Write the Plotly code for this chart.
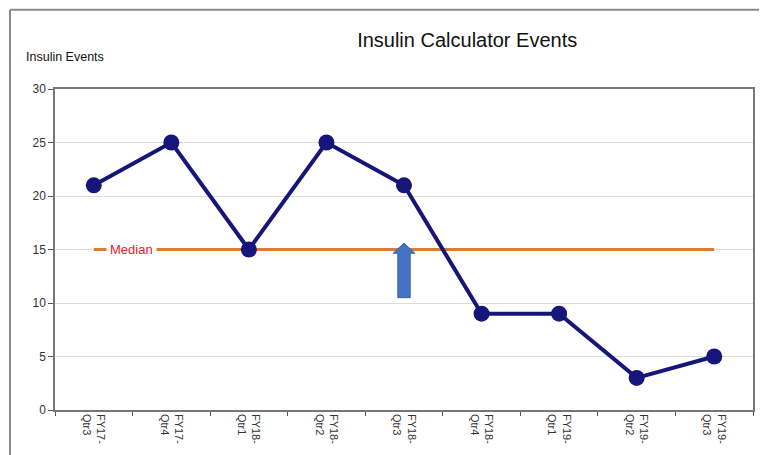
import plotly.graph_objects as go

categories = ["FY17-<br>Qtr3", "FY17-<br>Qtr4", "FY18-<br>Qtr1", "FY18-<br>Qtr2", "FY18-<br>Qtr3",
              "FY18-<br>Qtr4", "FY19-<br>Qtr1", "FY19-<br>Qtr2", "FY19-<br>Qtr3"]
events = [21, 25, 15, 25, 21, 9, 9, 3, 5]
median_value = 15
median = [median_value] * len(categories)

# arrow marker position (category index, value from/to)
arrow_cat = 4
arrow_from = 10.5
arrow_to = 15.6

fig = go.Figure()
fig.add_trace(go.Scatter(x=categories, y=median, mode="lines",
                         line=dict(color="#E07A2E", width=3), hoverinfo="skip", showlegend=False))
fig.add_trace(go.Scatter(x=categories, y=events, mode="lines+markers",
                         line=dict(color="#15157A", width=4),
                         marker=dict(size=16, color="#15157A"), showlegend=False))

# block arrow
sw, hw = 0.08, 0.14
head_base = arrow_to - 0.95
cx = arrow_cat
path = (f"M {cx-sw} {arrow_from} L {cx-sw} {head_base} L {cx-hw} {head_base} "
        f"L {cx} {arrow_to} L {cx+hw} {head_base} L {cx+sw} {head_base} L {cx+sw} {arrow_from} Z")
fig.add_shape(type="path", path=path, xref="x", yref="y",
              fillcolor="#4472C4", line=dict(color="#3A62AA", width=1))

# outer frame (left and top edges visible)
fig.add_shape(type="line", xref="paper", yref="paper", x0=-0.0645, x1=-0.0645, y0=-0.3, y1=1.247,
              line=dict(color="#8a8a8a", width=2), layer="below")
fig.add_shape(type="line", xref="paper", yref="paper", x0=-0.0645, x1=1.3, y0=1.247, y1=1.247,
              line=dict(color="#8a8a8a", width=2), layer="below")

fig.add_annotation(text="Median", x=0.48, y=median_value, xref="x", yref="y",
                   xanchor="center", showarrow=False, bgcolor="white",
                   font=dict(family="Liberation Sans, Arial", size=13, color="#E8202A"),
                   borderpad=3)
fig.add_annotation(text="Insulin Events", xref="paper", yref="paper", x=-0.044, y=1.10,
                   xanchor="left", yanchor="middle", showarrow=False,
                   font=dict(family="Liberation Sans, Arial", size=12.5, color="#111"))

fig.update_layout(
    width=759, height=447,
    margin=dict(l=47, r=14, t=81, b=45),
    paper_bgcolor="white", plot_bgcolor="white",
    title=dict(text="Insulin Calculator Events", x=0.605, xanchor="center", y=0.928, yanchor="middle",
               font=dict(family="Liberation Sans, Arial", size=20, color="#111")),
    font=dict(family="Liberation Sans, Arial", size=11, color="#222"),
    xaxis=dict(type="category", range=[-0.5, 8.5], tickangle=90, tickson="boundaries",
               ticks="outside", ticklen=4, tickcolor="#555", showgrid=False,
               showline=True, linecolor="#777", linewidth=1.5, mirror=True,
               tickfont=dict(size=11, color="#333")),
    yaxis=dict(range=[0, 30], dtick=5, ticks="outside", ticklen=5, tickcolor="#555",
               showgrid=True, gridcolor="#dcdcdc", zeroline=False,
               showline=True, linecolor="#777", linewidth=1.5, mirror=True,
               tickfont=dict(size=12, color="#333")),
)

fig.write_html("out.html")
